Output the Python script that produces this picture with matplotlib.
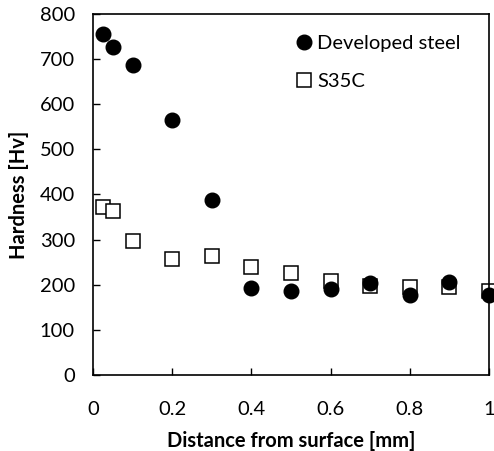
import matplotlib
matplotlib.use("Agg")
import matplotlib.pyplot as plt

plt.rcParams['font.family'] = ['Lato', 'DejaVu Sans']

# Hardness profiles vs. depth
dist_dev = [0.025, 0.05, 0.1, 0.2, 0.3, 0.4, 0.5, 0.6, 0.7, 0.8, 0.9, 1.0]
hard_dev = [755, 727, 686, 565, 388, 192, 187, 191, 203, 178, 206, 178]

dist_s35c = [0.025, 0.05, 0.1, 0.2, 0.3, 0.4, 0.5, 0.6, 0.7, 0.8, 0.9, 1.0]
hard_s35c = [372, 364, 297, 257, 264, 239, 226, 208, 197, 194, 194, 187]

x_ticks = [0, 0.2, 0.4, 0.6, 0.8, 1.0]
x_ticklabels = ["0", "0.2", "0.4", "0.6", "0.8", "1"]
y_ticks = [0, 100, 200, 300, 400, 500, 600, 700, 800]

fig = plt.figure(figsize=(4.94, 4.51), dpi=100)
ax = fig.add_axes([0.1883, 0.1685, 0.8016, 0.8005])

ax.plot(dist_dev, hard_dev, linestyle='none', marker='o', markersize=10.5,
        color='black', label='Developed steel', clip_on=False, zorder=3)
ax.plot(dist_s35c, hard_s35c, linestyle='none', marker='s', markersize=10,
        markerfacecolor='white', markeredgecolor='black', markeredgewidth=1.1,
        label='S35C', clip_on=False, zorder=2)

ax.set_xlim(0, 1)
ax.set_ylim(0, 800)
ax.set_xticks(x_ticks)
ax.set_xticklabels(x_ticklabels)
ax.set_yticks(y_ticks)
ax.tick_params(direction='in', length=5, width=1, labelsize=14.5,
               top=False, right=False)
ax.tick_params(axis='y', pad=13)
ax.tick_params(axis='x', pad=19)
for s in ax.spines.values():
    s.set_linewidth(1.2)

ax.set_xlabel('Distance from surface [mm]', fontsize=14.5, fontweight='bold', labelpad=9)
ax.set_ylabel('Hardness [Hv]', fontsize=14.5, fontweight='bold', labelpad=8)

ax.legend(loc='upper left', bbox_to_anchor=(0.487, 0.965), frameon=False,
          fontsize=14.5, handletextpad=0.15, handlelength=1.0, labelspacing=1.05,
          borderaxespad=0)

fig.savefig('out.png', dpi=100)
